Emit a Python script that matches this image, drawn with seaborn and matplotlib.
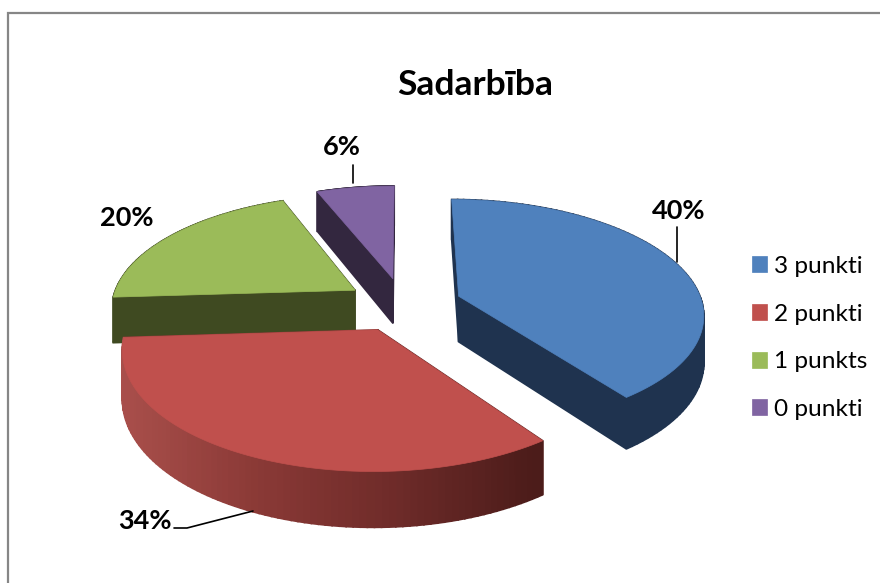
import numpy as np
import seaborn as sns
import matplotlib
matplotlib.use('Agg')
import matplotlib.pyplot as plt
from matplotlib.patches import Polygon

# data
categories = ['3 punkti', '2 punkti', '1 punkts', '0 punkti']
values = [40, 34, 20, 6]
top_colors = ['#4F81BD', '#C0504D', '#9BBB59', '#8064A2']
wall_colors = ['#1F334F', None, '#3F4A21', '#33273F']
explode = [0.24, 0.24, 0.24, 0.24]

# projection of the pie plane onto the picture (pixels)
cx, cy = 403.5, 304.5
rx, ry = 244, 113
persp = 0.145
depth = 46


def project(u, v, lift=0):
    k = 1 + persp * v
    return cx + rx * u / k, cy - ry * v / k + lift / k


sns.set_theme(style='white')
plt.rcParams['font.family'] = ['Lato', 'DejaVu Sans']

fig = plt.figure(figsize=(8.8, 5.83), dpi=100)
ax = fig.add_axes([0, 0, 1, 1])
wedges, _ = ax.pie(values, explode=explode, startangle=90, counterclock=False, colors=top_colors)

# pie() gives the flat slices, they get redrawn below with perspective and depth
slices = []
for w in wedges:
    t = np.radians(np.linspace(w.theta1, w.theta2, 90))
    u = np.r_[w.center[0], w.center[0] + w.r * np.cos(t)]
    v = np.r_[w.center[1], w.center[1] + w.r * np.sin(t)]
    slices.append((u, v))
    w.remove()

ax.set_aspect('auto')
ax.set_xlim(0, 880)
ax.set_ylim(583, 0)
ax.axis('off')

red_wall = sns.blend_palette(['#A94F4B', '#8A3936', '#6E2B29', '#4C1C1A'], n_colors=120)

# back to front so the nearer slices cover the others
handles = {}
for i in [3, 2, 0, 1]:
    u, v = slices[i]
    x0, y0 = project(u, v)
    x1, y1 = project(u, v, depth)
    n = len(u)
    quads = []
    for j in range(n):
        k = (j + 1) % n
        quads.append(([x0[j], x0[k], x1[k], x1[j]], [y0[j], y0[k], y1[k], y1[j]]))
    quads.sort(key=lambda q: np.mean(q[1]))
    for qx, qy in quads:
        if wall_colors[i] is None:
            pos = np.clip((np.mean(qx) - 121) / (530 - 121), 0, 1)
            c = red_wall[int(pos * 119)]
        else:
            c = wall_colors[i]
        ax.add_patch(Polygon(np.c_[qx, qy], closed=True, fc=c, ec=c, lw=1.2))
    handles[i] = ax.add_patch(Polygon(np.c_[x0, y0], closed=True, fc=top_colors[i], ec=top_colors[i],
                                      lw=0.5, label=categories[i]))

# chart frame, cut off at the right and bottom
ax.plot([8, 8, 880], [583, 13, 13], color='#868686', lw=1.6, solid_joinstyle='miter')

ax.text(475, 85, 'Sadarbība', fontsize=25.5, fontweight='bold', color='black', ha='center', va='center')

# data labels and their leader lines
label_pos = [(679, 211), (145, 521), (127, 218), (342, 147)]
leaders = [([677, 677], [227, 262]), ([174, 187, 253], [528, 528, 511]), None, ([353, 353], [165, 183])]
for i in range(4):
    ax.text(label_pos[i][0], label_pos[i][1], f'{values[i]}%', fontsize=19.5, fontweight='bold',
            color='black', ha='center', va='center')
    if leaders[i] is not None:
        ax.plot(leaders[i][0], leaders[i][1], color='black', lw=1.2)

ax.legend(handles=[handles[i] for i in range(4)], loc='upper left', bbox_to_anchor=(0.854, 0.561),
          frameon=False, fontsize=17.6, handlelength=0.62, handleheight=0.62, handletextpad=0.3,
          labelspacing=1.09, labelcolor='black', borderpad=0, borderaxespad=0)

fig.savefig('out.png', dpi=100, facecolor='white')
plt.close()
